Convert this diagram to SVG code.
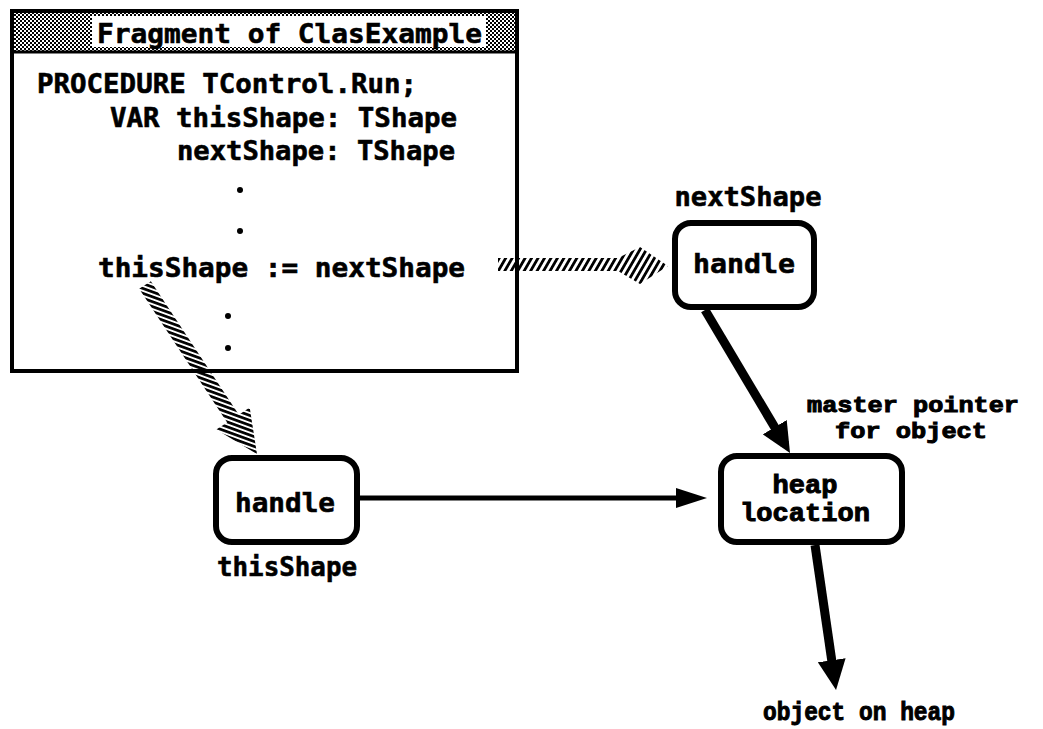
<svg xmlns="http://www.w3.org/2000/svg" width="1043" height="729" viewBox="0 0 1043 729">
<style>
  text { font-family: "DejaVu Sans Mono", "Liberation Mono", monospace; font-weight: bold; fill: #000; stroke: #000; stroke-width: 0.6; }
  .code { font-size: 27px; }
  .lbl { font-size: 27px; }
  .tw { font-size: 26px; font-family: "Liberation Mono", "DejaVu Sans Mono", monospace; stroke-width: 1; }
  .tws { font-size: 22px; font-family: "Liberation Mono", "DejaVu Sans Mono", monospace; stroke-width: 1; }
  .box { fill: #fff; stroke: #000; stroke-width: 6; }
  .line { stroke: #000; fill: none; }
</style>
<defs>
  <pattern id="dots" patternUnits="userSpaceOnUse" width="4" height="4">
    <rect width="4" height="4" fill="#fff"/>
    <rect x="0" y="0" width="2" height="2" fill="#000"/>
    <rect x="2" y="2" width="2" height="2" fill="#000"/>
  </pattern>
  <pattern id="hatchH" patternUnits="userSpaceOnUse" width="5.6" height="20" patternTransform="rotate(30)">
    <rect x="0" y="0" width="2.8" height="20" fill="#000"/>
  </pattern>
  <pattern id="hatchD" patternUnits="userSpaceOnUse" width="20" height="4.6" patternTransform="rotate(20)">
    <rect x="0" y="0" width="20" height="2.7" fill="#000"/>
  </pattern>
  <marker id="headBig" markerUnits="userSpaceOnUse" viewBox="0 0 30 28" refX="20" refY="14" markerWidth="30" markerHeight="28" orient="auto">
    <path d="M0,0 L30,14 L0,28 Z" fill="#000"/>
  </marker>
  <marker id="headSmall" markerUnits="userSpaceOnUse" viewBox="0 0 31 20" refX="21" refY="10" markerWidth="31" markerHeight="20" orient="auto">
    <path d="M0,0 L31,10 L0,20 Z" fill="#000"/>
  </marker>
</defs>
<rect width="1043" height="729" fill="#fff"/>

<g id="window">
  <rect x="12" y="11" width="505" height="41" fill="url(#dots)"/>
  <rect x="92" y="16" width="394" height="31" fill="#fff"/>
  <rect x="12" y="11" width="505" height="360" fill="none" stroke="#000" stroke-width="4"/>
  <line x1="12" y1="52" x2="517" y2="52" stroke="#000" stroke-width="3"/>
  <text class="code" x="97" y="43" textLength="385" lengthAdjust="spacingAndGlyphs">Fragment of ClasExample</text>
  <text class="code" x="37" y="93" textLength="380" lengthAdjust="spacingAndGlyphs">PROCEDURE TControl.Run;</text>
  <text class="code" x="110" y="127" textLength="347" lengthAdjust="spacingAndGlyphs">VAR thisShape: TShape</text>
  <text class="code" x="177" y="160" textLength="278" lengthAdjust="spacingAndGlyphs">nextShape: TShape</text>
  <circle cx="240" cy="190" r="3"/>
  <circle cx="240" cy="231" r="3"/>
  <text class="code" x="98" y="277" textLength="367" lengthAdjust="spacingAndGlyphs">thisShape := nextShape</text>
  <circle cx="228" cy="316" r="3"/>
  <circle cx="228" cy="348" r="3"/>
</g>

<g id="connectors">
  <polygon points="498,258 618,258 640,247 668,266 640,284 618,271 498,271" fill="url(#hatchH)"/>
  <polygon points="150.85,281.15 238.85,414.75 249.7,407.6 257,454 216.3,429.6 227.15,422.45 139.15,288.85" fill="url(#hatchD)"/>
  <line class="line" x1="705" y1="310" x2="784.9" y2="444.4" stroke-width="9" marker-end="url(#headBig)"/>
  <line class="line" x1="360" y1="498" x2="697" y2="498" stroke-width="5" marker-end="url(#headSmall)"/>
  <line class="line" x1="815" y1="545" x2="834.6" y2="680" stroke-width="9" marker-end="url(#headBig)"/>
</g>

<g id="nextShapeHandle">
  <text class="lbl" x="748" y="206" text-anchor="middle" textLength="147" lengthAdjust="spacingAndGlyphs">nextShape</text>
  <rect class="box" x="675" y="223" width="139" height="84" rx="16"/>
  <text class="lbl" x="744" y="273" text-anchor="middle" textLength="102" lengthAdjust="spacingAndGlyphs">handle</text>
</g>

<g id="thisShapeHandle">
  <rect class="box" x="216" y="458" width="141" height="84" rx="16"/>
  <text class="lbl" x="285" y="512" text-anchor="middle" textLength="100" lengthAdjust="spacingAndGlyphs">handle</text>
  <text class="lbl" x="287" y="576" text-anchor="middle" textLength="140" lengthAdjust="spacingAndGlyphs">thisShape</text>
</g>

<g id="heapLocation">
  <rect class="box" x="721" y="456" width="181" height="86" rx="16"/>
  <text class="tw" x="805" y="493" text-anchor="middle" textLength="65" lengthAdjust="spacingAndGlyphs">heap</text>
  <text class="tw" x="805" y="521" text-anchor="middle" textLength="130" lengthAdjust="spacingAndGlyphs">location</text>
</g>

<g id="masterPointerLabel">
  <text class="tws" x="913" y="412" text-anchor="middle" textLength="212" lengthAdjust="spacingAndGlyphs">master pointer</text>
  <text class="tws" x="911" y="438" text-anchor="middle" textLength="152" lengthAdjust="spacingAndGlyphs">for object</text>
</g>

<g id="objectOnHeap">
  <text class="tw" x="859" y="720" text-anchor="middle" textLength="192" lengthAdjust="spacingAndGlyphs">object on heap</text>
</g>
</svg>
